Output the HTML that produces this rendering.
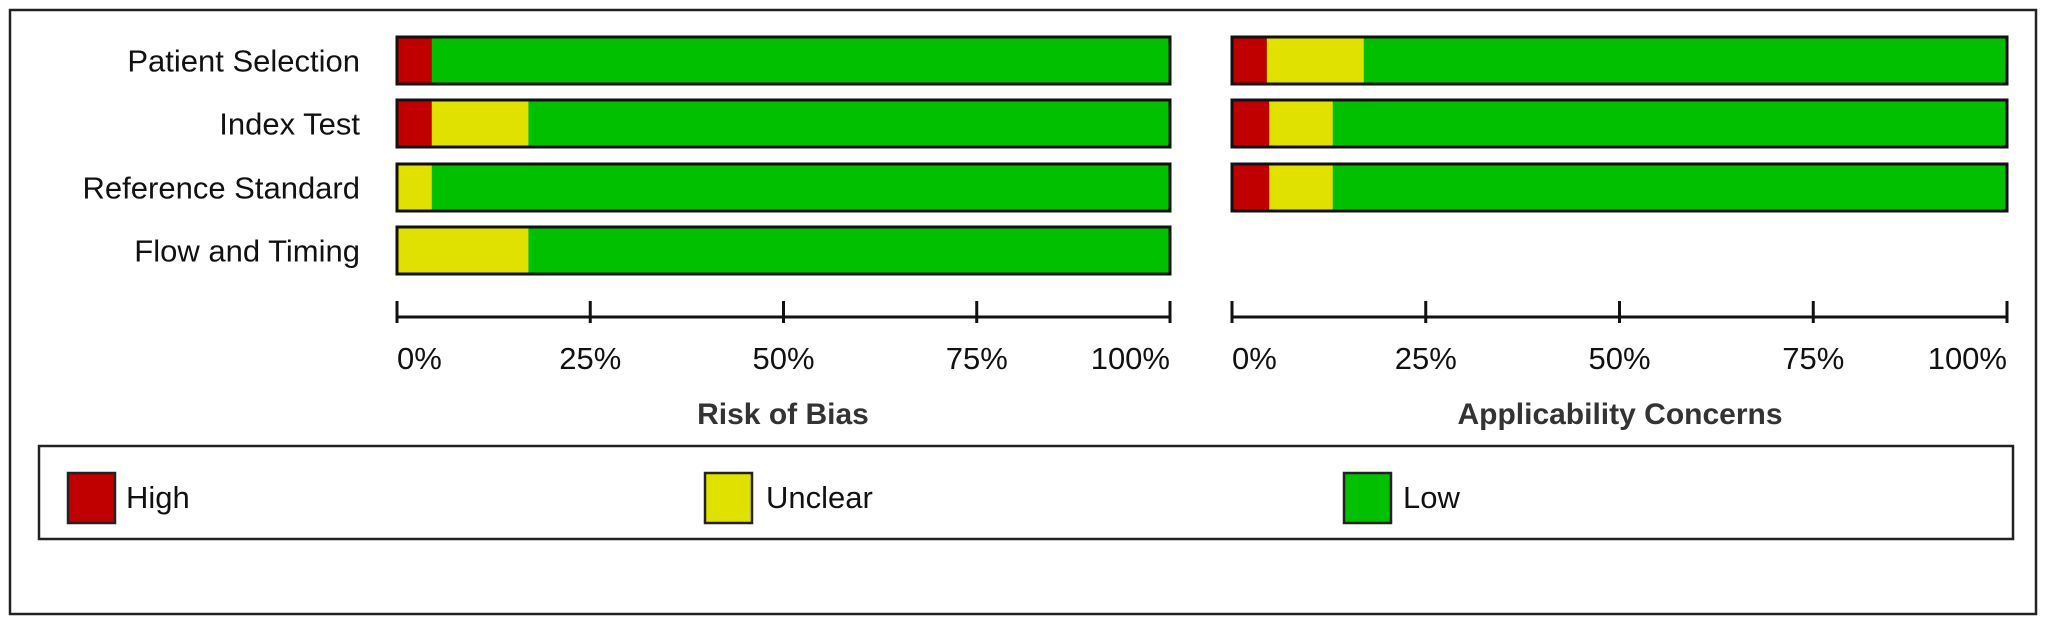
<!DOCTYPE html>
<html><head><meta charset="utf-8"><style>
body{margin:0;background:#fff;}
svg{display:block;font-family:"Liberation Sans",Arial,sans-serif;}
</style></head><body>
<svg id="chart" width="2050" height="618" viewBox="0 0 2050 618">
<rect x="10" y="10" width="2026" height="604" fill="#fff" stroke="#222" stroke-width="2.5"/>
<g id="labels"></g>
<g id="bars"></g>
<g id="axes"></g>
<text x="783" y="424" text-anchor="middle" font-size="30" font-weight="bold" fill="#333">Risk of Bias</text>
<text x="1620" y="424" text-anchor="middle" font-size="30" font-weight="bold" fill="#333">Applicability Concerns</text>
<g>
<rect x="39" y="446" width="1974" height="93" fill="#fff" stroke="#222" stroke-width="2.5"/>
<rect x="68" y="473" width="47" height="50" fill="#c00000" stroke="#222" stroke-width="2.5"/>
<text x="126" y="508" font-size="31" fill="#111">High</text>
<rect x="705" y="473" width="47" height="50" fill="#e1e100" stroke="#222" stroke-width="2.5"/>
<text x="766" y="508" font-size="31" fill="#111">Unclear</text>
<rect x="1344" y="473" width="47" height="50" fill="#00c000" stroke="#222" stroke-width="2.5"/>
<text x="1403" y="508" font-size="31" fill="#111">Low</text>
</g>
</svg>
<script>
const domains = ["Patient Selection","Index Test","Reference Standard","Flow and Timing"];
const riskHigh = [4.5, 4.5, 0, 0];
const riskUnclear = [0, 12.5, 4.5, 17];
const applHigh = [4.5, 4.8, 4.8];
const applUnclear = [12.5, 8.2, 8.2];
const tickLabels = ["0%","25%","50%","75%","100%"];
const tickValues = [0,25,50,75,100];

const NS="http://www.w3.org/2000/svg";
const rowTop=[37,100,164,227], rowH=47;
function mk(tag,attrs,parent){const e=document.createElementNS(NS,tag);for(const k in attrs)e.setAttribute(k,attrs[k]);parent.appendChild(e);return e;}
const panels=[{x0:397,x1:1170,high:riskHigh,unc:riskUnclear,name:'risk'},{x0:1232,x1:2007,high:applHigh,unc:applUnclear,name:'applicability'}];
const gl=document.getElementById('labels'), gb=document.getElementById('bars'), ga=document.getElementById('axes');
domains.forEach((d,i)=>{
  const t=mk('text',{x:360,y:rowTop[i]+rowH/2+11,'text-anchor':'end','font-size':31,fill:'#111'},gl);
  
  
  t.textContent=d;
});
panels.forEach(p=>{
  const sx=v=>p.x0+(p.x1-p.x0)*v/100;
  p.high.forEach((h,i)=>{
    const u=p.unc[i], y=rowTop[i];
    const g=mk('g',{},gb);
    
    
    const low=mk('rect',{x:sx(0),y:y,width:sx(100)-sx(0),height:rowH,fill:'#00c000'},g);
    
    
    if(h>0){const r=mk('rect',{x:sx(0),y:y,width:sx(h)-sx(0),height:rowH,fill:'#c00000'},g);
      
      }
    if(u>0){const r=mk('rect',{x:sx(h),y:y,width:sx(h+u)-sx(h),height:rowH,fill:'#e1e100'},g);
      
      }
    const b=mk('rect',{x:sx(0),y:y,width:sx(100)-sx(0),height:rowH,fill:'none',stroke:'#111','stroke-width':3},g);
    
    
  });
  const ax=mk('line',{x1:sx(0),x2:sx(100),y1:317,y2:317,stroke:'#111','stroke-width':3},ga);
  
  
  tickValues.forEach((v,k)=>{
    const tk=mk('line',{x1:sx(v),x2:sx(v),y1:301,y2:323,stroke:'#111','stroke-width':3},ga);
    
    
    const anchor=k===0?'start':(k===tickValues.length-1?'end':'middle');
    const t=mk('text',{x:sx(v),y:369,'text-anchor':anchor,'font-size':31,fill:'#111'},ga);
    
    
    t.textContent=tickLabels[k];
  });
});
</script>
</body></html>
